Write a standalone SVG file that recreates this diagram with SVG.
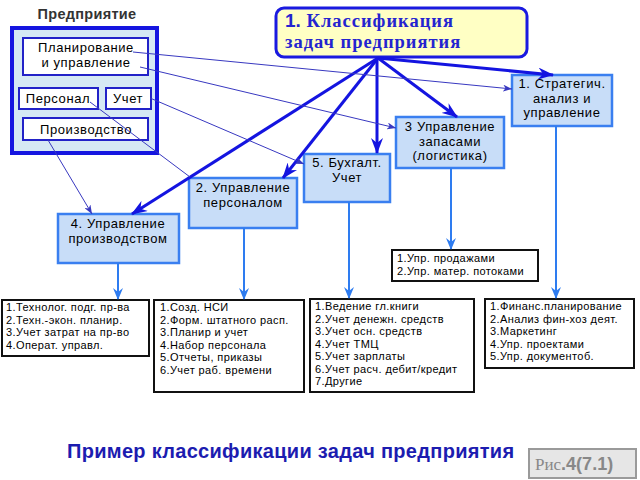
<svg xmlns="http://www.w3.org/2000/svg" width="640" height="480" viewBox="0 0 640 480">
<style>
.t{font-family:"Liberation Sans",Arial,sans-serif;fill:#000}
.ent{fill:#fff;stroke:#2222c8;stroke-width:2}
.nb{fill:#c8ddf8;stroke:#3a7ff0;stroke-width:2.5}
.lb{fill:#fff;stroke:#111;stroke-width:2}
.thick{stroke:#1414e0;stroke-width:3;fill:none}
.thin{stroke:#3838c0;stroke-width:1;fill:none}
.vert{stroke:#2e7cf0;stroke-width:2;fill:none}
.bl{font-size:13px;text-anchor:middle;letter-spacing:0.6px}
.ll{font-size:11px;letter-spacing:0.4px}
.ttl{font-family:"Liberation Serif","Times New Roman",serif;font-size:18.5px;font-weight:bold;fill:#2424d0;letter-spacing:1px}
</style>
<defs>
<marker id="mThick" markerUnits="userSpaceOnUse" markerWidth="16" markerHeight="12" refX="15" refY="6" orient="auto">
<path d="M0,0 L16,6 L0,12 L5,6 z" fill="#1414e0"/>
</marker>
<marker id="mThin" markerUnits="userSpaceOnUse" markerWidth="9" markerHeight="7" refX="9" refY="3.5" orient="auto">
<path d="M0,0 L9,3.5 L0,7 L2.5,3.5 z" fill="#3838c0"/>
</marker>
<marker id="mVert" markerUnits="userSpaceOnUse" markerWidth="12" markerHeight="10" refX="11" refY="5" orient="auto">
<path d="M0,0 L12,5 L0,10 L4,5 z" fill="#2e7cf0"/>
</marker>
</defs>
<rect width="640" height="480" fill="#fff"/>

<g id="enterprise">
<text x="87" y="19" class="t" style="font-size:14.5px;font-weight:bold;fill:#333;letter-spacing:0.3px" text-anchor="middle">Предприятие</text>
<rect x="12" y="28" width="145" height="125" fill="#d6e9f4" stroke="#1515e0" stroke-width="4"/>
</g>
<g id="planning">
<rect x="23" y="38" width="125" height="37" class="ent"/>
<text x="86" y="52" class="t bl">Планирование</text>
<text x="86" y="67" class="t bl">и управление</text>
</g>
<g id="personnel">
<rect x="19" y="88" width="79" height="21" class="ent"/>
<text x="58" y="103" class="t bl">Персонал</text>
</g>
<g id="account">
<rect x="106" y="88" width="45" height="21" class="ent"/>
<text x="128" y="103" class="t bl">Учет</text>
</g>
<g id="production">
<rect x="23" y="118" width="125" height="22" class="ent"/>
<text x="86" y="134" class="t bl">Производство</text>
</g>

<g id="title">
<rect x="276" y="8" width="251" height="49" rx="8" fill="#ffffc4" stroke="#1a1ae0" stroke-width="3"/>
<text x="285" y="27" class="ttl"><tspan style="font-family:'Liberation Sans',Arial,sans-serif;font-weight:900;font-size:19px;letter-spacing:0">1.</tspan> Классификация</text>
<text x="285" y="48" class="ttl">задач  предприятия</text>
</g>

<g id="n1">
<rect x="512" y="75" width="100" height="51" class="nb"/>
<text x="562" y="88" class="t bl">1. Стратегич.</text>
<text x="562" y="102.5" class="t bl">анализ и</text>
<text x="562" y="117" class="t bl">управление</text>
</g>
<g id="n3">
<rect x="396" y="117" width="108" height="51" class="nb"/>
<text x="450" y="131" class="t bl">3 Управление</text>
<text x="450" y="145.5" class="t bl">запасами</text>
<text x="450" y="160" class="t bl">(логистика)</text>
</g>
<g id="n5">
<rect x="304" y="154" width="86" height="48" class="nb"/>
<text x="347" y="167" class="t bl">5. Бухгалт.</text>
<text x="347" y="181.5" class="t bl">Учет</text>
</g>
<g id="n2">
<rect x="189" y="178" width="108" height="50" class="nb"/>
<text x="243" y="192" class="t bl">2. Управление</text>
<text x="243" y="206.5" class="t bl">персоналом</text>
</g>
<g id="n4">
<rect x="58" y="214" width="121" height="49" class="nb"/>
<text x="118" y="228" class="t bl">4. Управление</text>
<text x="118" y="242.5" class="t bl">производством</text>
</g>

<g id="l4">
<rect x="2" y="300" width="147" height="56" class="lb"/>
<text class="t ll"><tspan x="6" y="311">1.Технолог. подг. пр-ва</tspan><tspan x="6" y="323.5">2.Техн.-экон. планир.</tspan><tspan x="6" y="336">3.Учет затрат на пр-во</tspan><tspan x="6" y="348.5">4.Операт. управл.</tspan></text>
</g>
<g id="l2">
<rect x="154" y="300" width="150" height="92" class="lb"/>
<text class="t ll"><tspan x="160" y="311">1.Созд. НСИ</tspan><tspan x="160" y="323.5">2.Форм. штатного расп.</tspan><tspan x="160" y="336">3.Планир и учет</tspan><tspan x="160" y="348.5">4.Набор персонала</tspan><tspan x="160" y="361">5.Отчеты, приказы</tspan><tspan x="160" y="373.5">6.Учет раб. времени</tspan></text>
</g>
<g id="l5">
<rect x="310" y="299" width="164" height="93" class="lb"/>
<text class="t ll"><tspan x="315" y="310">1.Ведение гл.книги</tspan><tspan x="315" y="322.5">2.Учет денежн. средств</tspan><tspan x="315" y="335">3.Учет осн. средств</tspan><tspan x="315" y="347.5">4.Учет ТМЦ</tspan><tspan x="315" y="360">5.Учет зарплаты</tspan><tspan x="315" y="372.5">6.Учет расч. дебит/кредит</tspan><tspan x="315" y="385">7.Другие</tspan></text>
</g>
<g id="l3">
<rect x="392" y="250" width="146" height="31" class="lb"/>
<text class="t ll"><tspan x="397" y="262">1.Упр. продажами</tspan><tspan x="397" y="274.5">2.Упр. матер. потоками</tspan></text>
</g>
<g id="l1">
<rect x="485" y="299" width="149" height="69" class="lb"/>
<text class="t ll"><tspan x="490" y="310">1.Финанс.планирование</tspan><tspan x="490" y="322.5">2.Анализ фин-хоз деят.</tspan><tspan x="490" y="335">3.Маркетинг</tspan><tspan x="490" y="347.5">4.Упр. проектами</tspan><tspan x="490" y="360">5.Упр. документоб.</tspan></text>
</g>

<g id="connectors">
<line x1="378" y1="58" x2="553" y2="75" class="thick" marker-end="url(#mThick)"/>
<line x1="378" y1="58" x2="457" y2="117" class="thick" marker-end="url(#mThick)"/>
<line x1="377" y1="58" x2="377" y2="153" class="thick" marker-end="url(#mThick)"/>
<line x1="378" y1="58" x2="283" y2="178" class="thick" marker-end="url(#mThick)"/>
<line x1="378" y1="58" x2="132" y2="214" class="thick" marker-end="url(#mThick)"/>
<line x1="133" y1="52" x2="512" y2="89" class="thin" marker-end="url(#mThin)"/>
<line x1="140" y1="67" x2="396" y2="128" class="thin" marker-end="url(#mThin)"/>
<line x1="150" y1="98" x2="304" y2="164" class="thin" marker-end="url(#mThin)"/>
<line x1="90" y1="102" x2="190" y2="177" class="thin"/>
<line x1="48" y1="140" x2="92" y2="214" class="thin" marker-end="url(#mThin)"/>
<line x1="118" y1="263" x2="118" y2="299" class="vert" marker-end="url(#mVert)"/>
<line x1="244" y1="228" x2="244" y2="299" class="vert" marker-end="url(#mVert)"/>
<line x1="349" y1="202" x2="349" y2="298" class="vert" marker-end="url(#mVert)"/>
<line x1="451" y1="168" x2="451" y2="249" class="vert" marker-end="url(#mVert)"/>
<line x1="556" y1="126" x2="556" y2="298" class="vert" marker-end="url(#mVert)"/>
</g>

<g id="caption">
<text x="67" y="458" style="font-family:'Liberation Sans',Arial,sans-serif;font-size:20px;font-weight:bold;fill:#1c1cb0;letter-spacing:0.3px">Пример классификации задач предприятия</text>
</g>
<g id="fig">
<rect x="529" y="449" width="107" height="29" fill="#e6e6e6" stroke="#9a9a9a" stroke-width="2"/>
<text x="535" y="470" style="font-family:'Liberation Serif','Times New Roman',serif;font-size:17px;fill:#888">Рис<tspan style="font-family:'Liberation Sans',Arial,sans-serif;font-weight:bold;font-size:18px">.4(7.1)</tspan></text>
</g>
</svg>
